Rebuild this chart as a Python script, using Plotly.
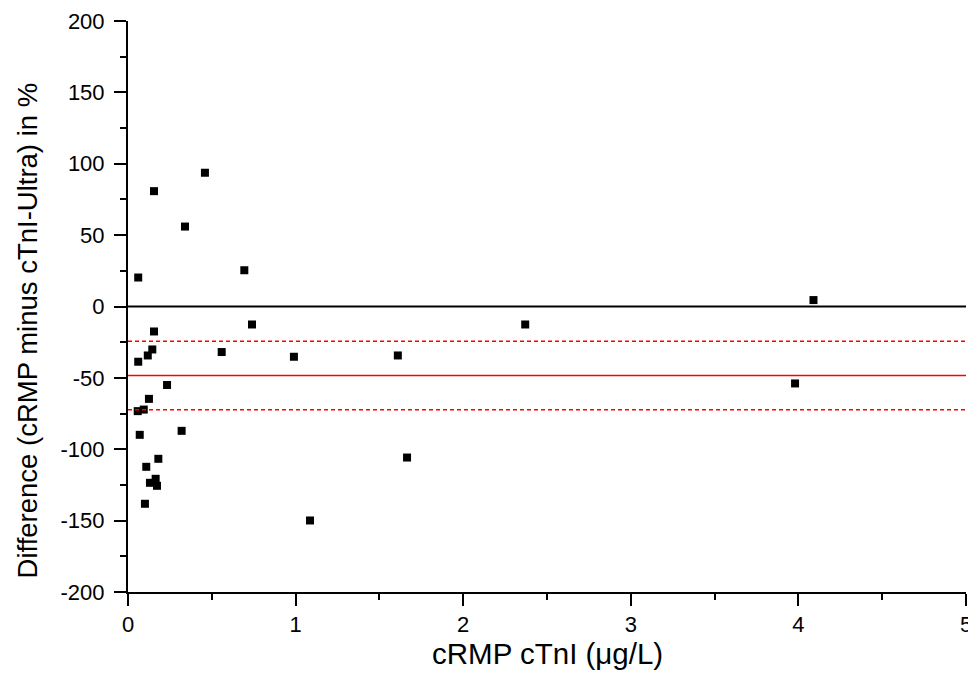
import plotly.graph_objects as go

# cRMP cTnI (µg/L)
x_vals = [0.061, 0.155, 0.459, 0.340, 0.694, 4.09, 0.155, 0.740, 2.37, 0.145,
          0.118, 0.061, 0.559, 0.990, 1.61, 0.233, 3.98, 0.125, 0.058, 0.094,
          0.070, 0.320, 0.181, 0.109, 1.665, 0.131, 0.165, 0.173, 0.101, 1.086]
# Difference in %
y_vals = [20.3, 80.8, 93.7, 56.0, 25.4, 4.5, -17.5, -12.6, -12.6, -30.1,
          -34.3, -38.7, -31.9, -35.2, -34.3, -55.0, -53.9, -64.7, -73.3, -72.2,
          -89.9, -87.1, -106.7, -112.3, -105.8, -123.5, -120.7, -125.6, -138.2, -149.9]

mean_diff = -48.4
upper_limit = -24.4
lower_limit = -72.3

x_ticks = [0, 1, 2, 3, 4, 5]
y_ticks = [-200, -150, -100, -50, 0, 50, 100, 150, 200]

x_title = "cRMP cTnI (μg/L)"
y_title = "Difference (cRMP minus cTnI-Ultra) in %"

font_family = "Liberation Sans, Arial, sans-serif"

fig = go.Figure()
fig.add_trace(go.Scatter(
    x=x_vals, y=y_vals, mode="markers",
    marker=dict(symbol="square", size=8, color="black", line=dict(width=0)),
    showlegend=False, cliponaxis=False,
))

# zero line
fig.add_shape(type="line", xref="x", yref="y", x0=0, x1=5, y0=0, y1=0,
              line=dict(color="black", width=2))
# mean and limits
fig.add_shape(type="line", xref="x", yref="y", x0=0, x1=5, y0=mean_diff, y1=mean_diff,
              line=dict(color="#ff0000", width=1.5))
for v in (upper_limit, lower_limit):
    fig.add_shape(type="line", xref="x", yref="y", x0=0, x1=5, y0=v, y1=v,
                  line=dict(color="#ff0000", width=1.5, dash="4px,3px"))

fig.add_annotation(text=x_title, xref="paper", yref="paper", x=0.5, y=0,
                   xanchor="center", yanchor="middle", yshift=-61, showarrow=False,
                   font=dict(size=29.5, family=font_family, color="black"))
fig.add_annotation(text=y_title, xref="paper", yref="paper", x=0, y=0.458,
                   xanchor="center", yanchor="middle", xshift=-101, textangle=-90,
                   showarrow=False, font=dict(size=27.5, family=font_family, color="black"))

fig.update_layout(
    width=976, height=667,
    margin=dict(l=120, r=18, t=13, b=83),
    paper_bgcolor="white", plot_bgcolor="white",
    font=dict(family=font_family, color="black"),
    xaxis=dict(
        range=[0, 5], tickvals=x_ticks, ticktext=[str(t) for t in x_ticks],
        automargin=False, ticklabeloverflow="allow",
        showgrid=False, zeroline=False, showline=True, linecolor="black", linewidth=2,
        ticks="outside", ticklen=12, tickwidth=2, tickcolor="black",
        minor=dict(dtick=0.5, ticks="outside", ticklen=6, tickwidth=2, tickcolor="black"),
        tickfont=dict(size=22),
    ),
    yaxis=dict(
        range=[-200, 200], tickvals=y_ticks, ticktext=[str(t) for t in y_ticks],
        automargin=False, ticklabelstandoff=5,
        showgrid=False, zeroline=False, showline=True, linecolor="black", linewidth=2,
        ticks="outside", ticklen=12, tickwidth=2, tickcolor="black",
        minor=dict(dtick=25, ticks="outside", ticklen=6, tickwidth=2, tickcolor="black"),
        tickfont=dict(size=22),
    ),
)

fig.write_html("out.html")
